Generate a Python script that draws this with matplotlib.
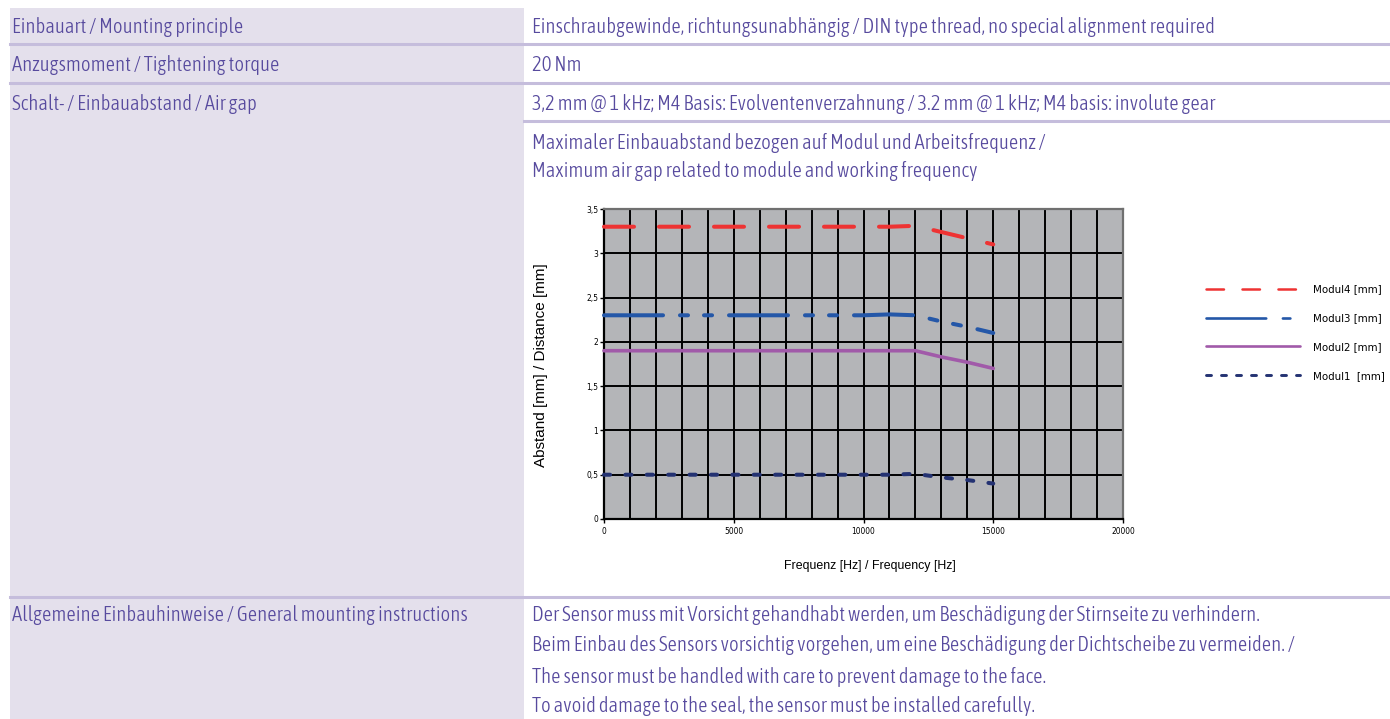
import matplotlib
matplotlib.use("Agg")
import matplotlib.pyplot as plt
from matplotlib import font_manager
from matplotlib.font_manager import FontProperties
from matplotlib.patches import Rectangle
from matplotlib.lines import Line2D

# ---------------- data ----------------
freq = [0, 1000, 2000, 3000, 4000, 5000, 6000, 7000, 8000, 9000, 10000,
        11000, 12000, 13000, 14000, 15000]
modul4 = [3.3, 3.3, 3.3, 3.3, 3.3, 3.3, 3.3, 3.3, 3.3, 3.3, 3.3, 3.3, 3.31, 3.24, 3.17, 3.1]
modul3 = [2.3, 2.3, 2.3, 2.3, 2.3, 2.3, 2.3, 2.3, 2.3, 2.3, 2.3, 2.31, 2.3, 2.23, 2.17, 2.1]
modul2 = [1.9, 1.9, 1.9, 1.9, 1.9, 1.9, 1.9, 1.9, 1.9, 1.9, 1.9, 1.9, 1.9, 1.83, 1.77, 1.7]
modul1 = [0.5, 0.5, 0.5, 0.5, 0.5, 0.5, 0.5, 0.5, 0.5, 0.5, 0.5, 0.5, 0.51, 0.47, 0.44, 0.4]
series_labels = ["Modul4 [mm]", "Modul3 [mm]", "Modul2 [mm]", "Modul1  [mm]"]
x_ticks = [0, 5000, 10000, 15000, 20000]
y_ticks = [0, 0.5, 1, 1.5, 2, 2.5, 3, 3.5]
y_tick_labels = ["0", "0,5", "1", "1,5", "2", "2,5", "3", "3,5"]

rows_left = ["Einbauart / Mounting principle",
             "Anzugsmoment / Tightening torque",
             "Schalt- / Einbauabstand / Air gap"]
rows_right = ["Einschraubgewinde, richtungsunabhängig / DIN type thread, no special alignment required",
              "20 Nm",
              "3,2 mm @ 1 kHz; M4 Basis: Evolventenverzahnung / 3.2 mm @ 1 kHz; M4 basis: involute gear"]
chart_caption = ["Maximaler Einbauabstand bezogen auf Modul und Arbeitsfrequenz /",
                 "Maximum air gap related to module and working frequency"]
bottom_left = "Allgemeine Einbauhinweise / General mounting instructions"
bottom_right = ["Der Sensor muss mit Vorsicht gehandhabt werden, um Beschädigung der Stirnseite zu verhindern.",
                "Beim Einbau des Sensors vorsichtig vorgehen, um eine Beschädigung der Dichtscheibe zu vermeiden. /",
                "The sensor must be handled with care to prevent damage to the face.",
                "To avoid damage to the seal, the sensor must be installed carefully."]

# ---------------- fonts ----------------
COND = {"condensed": 0, "semi-condensed": 60, "extra-condensed": 90, "ultra-condensed": 150}


def _w(v):
    if isinstance(v, (int, float)):
        return float(v)
    return float(font_manager.weight_dict.get(str(v), 400))


def pick(target_weight):
    best = None
    for f in font_manager.fontManager.ttflist:
        n = f.name
        st = str(f.stretch)
        cond = ("Narrow" in n) or ("Condensed" in n) or (st in COND)
        if not cond or f.style != "normal":
            continue
        score = abs(_w(f.weight) - target_weight) + COND.get(st, 30)
        if best is None or score < best[0]:
            best = (score, f.fname)
    if best is not None:
        return FontProperties(fname=best[1])
    return FontProperties(family=["Liberation Sans", "DejaVu Sans"])


NFP_LIGHT = pick(300)
NFP = pick(400)
PFP = FontProperties(family=["Liberation Sans", "DejaVu Sans"])
plt.rcParams["lines.scale_dashes"] = False

W, H = 1390, 719
fig = plt.figure(figsize=(W / 100, H / 100), dpi=100)
renderer = fig.canvas.get_renderer()


def fit(fp, s, target_px):
    p = fp.copy()
    p.set_size(10)
    t = fig.text(0, 0, s, fontproperties=p)
    w = t.get_window_extent(renderer=renderer).width
    t.remove()
    return 10 * target_px / w


def sized(fp, size):
    p = fp.copy()
    p.set_size(size)
    return p


def fx(px):
    return px / W


def fy(py):
    return 1 - py / H


tsize = 0.5 * (fit(NFP_LIGHT, rows_right[0], 678) + fit(NFP_LIGHT, bottom_left, 452))
TFP = sized(NFP_LIGHT, tsize)
tick_fp = sized(NFP, 0.5 * (fit(NFP, "20000", 20) + fit(NFP, "2,5", 14)))
leg_fp = sized(NFP, fit(NFP, "Modul4 [mm]", 69))

TXT = "#574a9e"
PANEL = "#e4e0ec"
SEP = "#c5bddc"

# left panel
fig.patches.append(Rectangle((fx(10), 0), fx(524) - fx(10), fy(8), transform=fig.transFigure,
                             facecolor=PANEL, edgecolor="none", zorder=0))
# separators
for y, x0 in [(44, 10), (83, 10), (121, 524), (597, 10)]:
    fig.add_artist(Line2D([fx(x0), 1], [fy(y), fy(y)], transform=fig.transFigure,
                          color=SEP, lw=2.2, zorder=1))

row_y = [27, 65, 104]
for y, l, r in zip(row_y, rows_left, rows_right):
    fig.text(fx(12), fy(y), l, fontproperties=TFP, color=TXT, va="center", ha="left")
    fig.text(fx(532), fy(y), r, fontproperties=TFP, color=TXT, va="center", ha="left")
for y, s in zip([143, 171], chart_caption):
    fig.text(fx(532), fy(y), s, fontproperties=TFP, color=TXT, va="center", ha="left")
fig.text(fx(12), fy(615), bottom_left, fontproperties=TFP, color=TXT, va="center", ha="left")
for y, s in zip([615, 645, 677, 706], bottom_right):
    fig.text(fx(532), fy(y), s, fontproperties=TFP, color=TXT, va="center", ha="left")

# ---------------- chart ----------------
ax = fig.add_axes([fx(604), fy(519), fx(1123) - fx(604), fy(209) - fy(519)])
ax.set_facecolor("#b4b5b8")
ax.set_xlim(0, 20000)
ax.set_ylim(0, 3.5)
ax.set_xticks(x_ticks)
ax.set_xticklabels([str(t) for t in x_ticks])
ax.set_xticks(list(range(0, 20001, 1000)), minor=True)
ax.set_yticks(y_ticks)
ax.set_yticklabels(y_tick_labels)
ax.grid(True, which="both", axis="x", color="black", lw=1.4)
ax.grid(True, which="major", axis="y", color="black", lw=1.4)
ax.set_axisbelow(True)
ax.tick_params(axis="x", which="minor", length=0)
ax.tick_params(axis="both", which="major", length=3, width=1, color="black", pad=1)
ax.tick_params(axis="x", pad=3)
for lab in ax.get_xticklabels() + ax.get_yticklabels():
    lab.set_fontproperties(tick_fp)
ax.spines["left"].set_color("black")
ax.spines["bottom"].set_color("black")
ax.spines["top"].set_color("#707070")
ax.spines["right"].set_color("#707070")
for s in ax.spines.values():
    s.set_linewidth(1.6)

styles = [
    dict(color="#ee3333", lw=2.9, dashes=(21.6, 18.0)),
    dict(color="#2457a8", lw=2.9, dashes=(42.5, 12.2, 5.8, 11.5, 5.8, 12.2)),
    dict(color="#a15aa9", lw=2.6, dashes=None),
    dict(color="#243272", lw=2.9, dashes=(4.4, 11.0)),
]
for ys, st in zip([modul4, modul3, modul2, modul1], styles):
    kw = dict(color=st["color"], lw=st["lw"], solid_capstyle="round",
              dash_capstyle="round", zorder=3, clip_on=False)
    if st["dashes"] is None:
        ax.plot(freq, ys, "-", **kw)
    else:
        ax.plot(freq, ys, "--", dashes=st["dashes"], **kw)

fig.text(fx(541), fy(365), "Abstand [mm] / Distance [mm]", fontproperties=sized(PFP, 11),
         rotation=90, ha="center", va="center", color="black")
fig.text(fx(870), fy(566), "Frequenz [Hz] / Frequency [Hz]", fontproperties=sized(PFP, 8.9),
         ha="center", va="center", color="black")

# legend
leg_styles = [
    dict(color="#ee3333", lw=1.8, dashes=(12.6, 13.3)),
    dict(color="#2457a8", lw=1.9, dashes=(43.0, 12.0, 5.4, 30.0)),
    dict(color="#a15aa9", lw=1.9, dashes=None),
    dict(color="#243272", lw=2.1, dashes=(3.6, 7.2)),
]
handles = []
for st in leg_styles:
    if st["dashes"] is None:
        h = Line2D([], [], color=st["color"], lw=st["lw"], ls="-", solid_capstyle="round")
    else:
        h = Line2D([], [], color=st["color"], lw=st["lw"], ls="--", dashes=st["dashes"],
                   dash_capstyle="round")
    handles.append(h)
lpx = leg_fp.get_size_in_points() * 100 / 72
leg = fig.legend(handles, series_labels, loc="center left",
                 bbox_to_anchor=(fx(1206), fy(333)), bbox_transform=fig.transFigure,
                 frameon=False, prop=leg_fp,
                 handlelength=94 / lpx, handletextpad=13 / lpx,
                 labelspacing=(32.7 - 1.2 * lpx) / lpx, borderpad=0, borderaxespad=0)

fig.savefig("out.png", dpi=100)
